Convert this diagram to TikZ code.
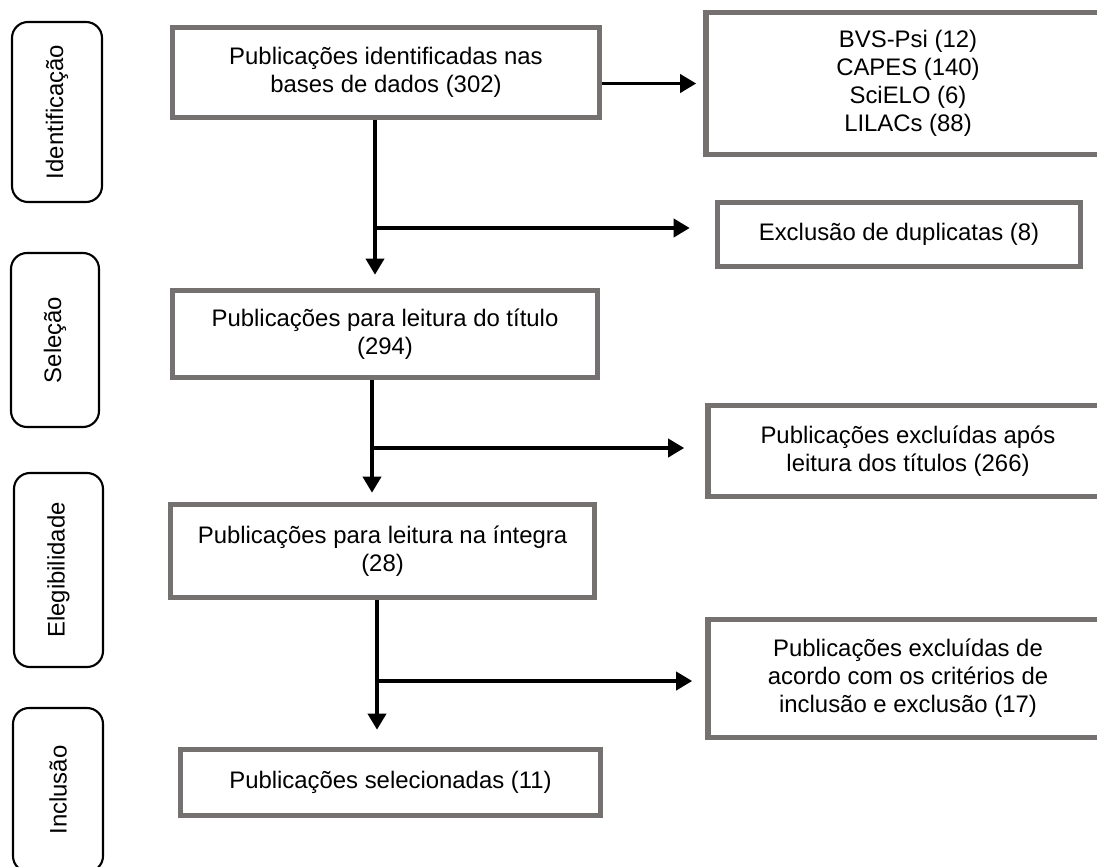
\documentclass[tikz,border=0pt]{standalone}
\usepackage{fontspec}
\setmainfont{Liberation Sans}
\usetikzlibrary{arrows.meta}
\definecolor{boxgray}{RGB}{118,113,113}
\begin{document}
\begin{tikzpicture}[
	font=\fontsize{17pt}{19.9pt}\selectfont,
	etapa/.style={draw=boxgray, line width=4pt, align=center, inner sep=0pt},
	fase/.style={draw, line width=1.5pt, rounded corners=.4cm, rotate=90, inner sep=0pt},
	seta/.style={line width=2.6pt, -{Triangle[length=.4cm, width=.45cm]}}]
	\clip (0,0) rectangle (27.425,-21.65);
	\fill[white] (0,0) rectangle (27.425,-21.65);

	\node[fase, minimum width=4.5cm, minimum height=2.25cm] (ident) at (1.425,-2.8) {Identificação};
	\node[fase, minimum width=4.35cm, minimum height=2.2cm] (selec) at (1.375,-8.5) {Seleção};
	\node[fase, minimum width=4.85cm, minimum height=2.225cm] (eleg) at (1.4625,-14.25) {Elegibilidade};
	\node[fase, minimum width=4.1cm, minimum height=2.25cm] (incl) at (1.45,-19.75) {Inclusão};

	\node[etapa, minimum width=10.675cm, minimum height=2.25cm] (pub) at (9.65,-1.8125) {Publicações identificadas nas\\bases de dados (302)};
	\node[etapa, minimum width=10.1cm, minimum height=3.55cm] (bases) at (22.7,-2.0875) {BVS-Psi (12)\\CAPES (140)\\SciELO (6)\\LILACs (88)};
	\node[etapa, minimum width=9.075cm, minimum height=1.6cm] (dup) at (22.475,-5.8625) {Exclusão de duplicatas (8)};
	\node[etapa, minimum width=10.625cm, minimum height=2.175cm] (tit) at (9.625,-8.35) {Publicações para leitura do título\\(294)};
	\node[etapa, minimum width=10cm, minimum height=2.275cm] (exc1) at (22.7,-11.275) {Publicações excluídas após\\leitura dos títulos (266)};
	\node[etapa, minimum width=10.6cm, minimum height=2.325cm] (int) at (9.5625,-13.775) {Publicações para leitura na íntegra\\(28)};
	\node[etapa, minimum width=10cm, minimum height=2.95cm] (exc2) at (22.7,-16.9625) {Publicações excluídas de\\acordo com os critérios de\\inclusão e exclusão (17)};
	\node[etapa, minimum width=10.5cm, minimum height=1.65cm] (sel) at (9.7625,-19.5625) {Publicações selecionadas (11)};

	\coordinate (r1) at (9.375,-5.7);
	\coordinate (r2) at (9.3,-11.2);
	\coordinate (r3) at (9.425,-17.025);

	\draw[seta, shorten >=.175cm] (bases.west -| pub.east) -- (bases.west);
	\draw[seta, shorten >=.325cm] (pub.south -| r1) -- (tit.north -| r1);
	\draw[seta, shorten >=.625cm] (r1) -- (r1 -| dup.west);
	\draw[seta, shorten >=.225cm] (tit.south -| r2) -- (int.north -| r2);
	\draw[seta, shorten >=.525cm] (r2) -- (r2 -| exc1.west);
	\draw[seta, shorten >=.425cm] (int.south -| r3) -- (sel.north -| r3);
	\draw[seta, shorten >=.325cm] (r3) -- (r3 -| exc2.west);
\end{tikzpicture}
\end{document}
